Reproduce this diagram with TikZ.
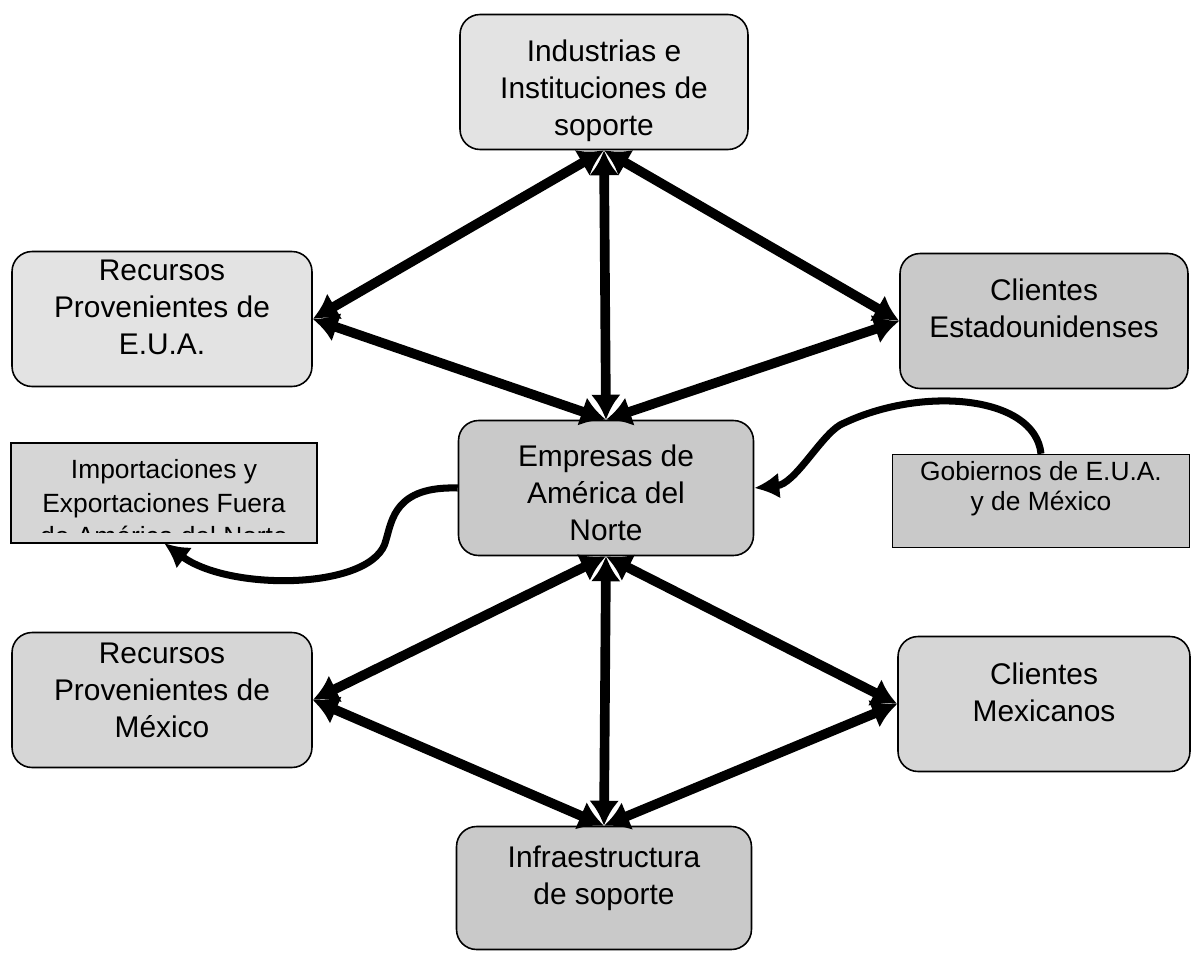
\documentclass[tikz,border=0pt]{standalone}
\usepackage{fontspec}
\setmainfont{Liberation Sans}
\usetikzlibrary{arrows.meta}
\definecolor{pale}{gray}{0.89}
\definecolor{mid}{gray}{0.84}
\definecolor{deep}{gray}{0.79}
\tikzset{
  actor/.style={draw=black, line width=0.9pt, rounded corners=0.4cm, fill=mid,
                minimum width=5.9cm, minimum height=2.7cm, align=center,
                inner sep=3pt, font=\fontsize{17}{21}\selectfont},
  % the two outside parties: square boxes with smaller text
  outside/.style={draw=black, line width=0.9pt, fill=mid, align=center,
                  inner xsep=3pt, inner ysep=10pt, font=\fontsize{15}{17}\selectfont},
  % text sits a little off the middle of most boxes: pad the text box
  % above (text drops) or below (text rises)
  textlow/.style={text height=#1},
  texthigh/.style={text depth=#1},
  link/.style={line width=5.5pt,
               {Latex[length=0.5cm,width=0.6cm]}-{Latex[length=0.5cm,width=0.6cm]}},
  influence/.style={line width=4pt, -{Latex[length=0.5cm,width=0.52cm]}},
}

\begin{document}
\begin{tikzpicture}[x=0.02cm, y=-0.02cm]
  \useasboundingbox (0,0) rectangle (1194,957);

  % --- the ring of actors round the firms ----------------------------------
  \node[actor, fill=pale, minimum width=5.76cm, textlow=64.6pt] (ind) at (604,82)
    {Industrias e\\Instituciones de\\soporte};
  \node[actor, fill=pale, minimum width=6cm, texthigh=13.6pt] (recu) at (162,319)
    {Recursos\\Provenientes de\\E.U.A.};
  \node[actor, fill=deep, minimum width=5.76cm, texthigh=14.8pt] (clie) at (1044,321)
    {Clientes\\Estadounidenses};
  \node[actor, fill=deep, textlow=59.8pt] (emp) at (606,488)
    {Empresas de\\América del\\Norte};
  \node[actor, minimum width=6cm, texthigh=11.4pt] (recm) at (162,700)
    {Recursos\\Provenientes de\\México};
  \node[actor, minimum width=5.84cm, texthigh=13.6pt] (clim) at (1044,704)
    {Clientes\\Mexicanos};
  \node[actor, fill=deep, minimum height=2.46cm, texthigh=15pt] (inf) at (604,888)
    {Infraestructura\\de soporte};

  % --- outside parties -----------------------------------------------------
  % the third line of the trade box runs past the text area and is cut off
  \coordinate (textcut) at (164,533);
  \coordinate (impcut) at (164,543);
  \begin{scope}
    \clip (0,430) rectangle (330,533);
    \node[outside, draw=none, anchor=north, minimum width=6.1cm, inner ysep=9pt,
          font=\fontsize{15}{19}\selectfont] (imp) at (164,443)
      {Importaciones y\\Exportaciones Fuera\\de América del Norte};
  \end{scope}
  \fill[mid] (imp.west |- textcut) rectangle (imp.east |- impcut);
  \draw[line width=0.9pt] (imp.north west) rectangle (imp.east |- impcut);
  \node[outside, fill=deep, minimum width=5.94cm, minimum height=1.86cm,
        inner ysep=3pt, texthigh=16.8pt] (gob) at (1041,501)
    {Gobiernos de E.U.A.\\y de México};

  % --- two-way links -------------------------------------------------------
  \draw[link] (ind.south) -- (recu.east);
  \draw[link] (ind.south) -- (clie.west);
  \draw[link] (ind.south) -- (emp.north);
  \draw[link] (recu.east) -- (emp.north);
  \draw[link] (clie.west) -- (emp.north);
  \draw[link] (emp.south) -- (recm.east);
  \draw[link] (emp.south) -- (clim.west);
  \draw[link] (emp.south) -- (inf.north);
  \draw[link] (recm.east) -- (inf.north);
  \draw[link] (clim.west) -- (inf.north);

  % --- one-way influences --------------------------------------------------
  \draw[influence] (emp.west) .. controls (395,486) and (392,520) .. (386,540)
                   .. controls (375,590) and (230,592) .. (impcut);
  \draw[influence] (gob.north) .. controls (1035,395) and (920,385) .. (840,425)
                   .. controls (820,437) and (795,484) .. (emp.east);
\end{tikzpicture}
\end{document}
